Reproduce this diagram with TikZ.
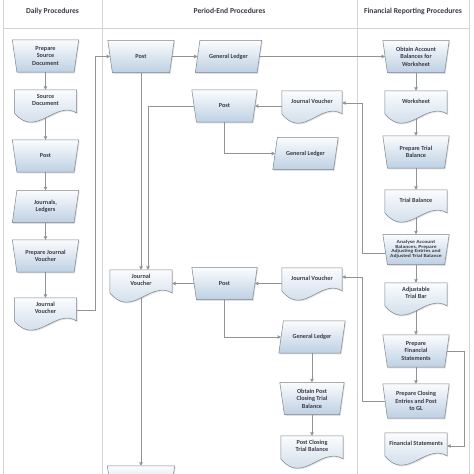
\documentclass[tikz,border=0pt]{standalone}
\usepackage{fontspec}
\setmainfont{Carlito}
\newfontfamily\aafont[FakeStretch=1.22]{Carlito}
\usetikzlibrary{arrows.meta,shadows,calc}
\pgfdeclarelayer{lanes}\pgfdeclarelayer{conn}\pgfdeclarelayer{shapes}
\pgfsetlayers{lanes,conn,shapes,main}
\definecolor{txt}{HTML}{3A3A48}
\definecolor{lanec}{HTML}{D4D4D4}
\definecolor{connc}{HTML}{939393}
\definecolor{edgec}{HTML}{7D858F}
\definecolor{fillTop}{HTML}{FBFCFD}
\definecolor{fillBot}{HTML}{BDD0E3}
\newcommand\docH{33pt}
\newcommand\sk{2.3pt}
\newcommand\docshape[1]{%
  \path[shapefill] let \p1=(#1.north west), \p2=(#1.north east), \n1={\x2-\x1} in
   (\x1,\y1) -- (\x2,\y1) -- (\x2,{\y1-0.7*\docH})
   .. controls ({\x1+0.65*\n1},{\y1-0.3*\docH}) and ({\x1+0.35*\n1},{\y1-1.5*\docH}) ..
   (\x1,{\y1-0.7*\docH}) -- cycle;}
\newcommand\opshape[1]{%
  \path[shapefill] ([xshift=-\sk]#1.north west) -- ([xshift=\sk]#1.north east)
   -- ([xshift=-\sk]#1.south east) -- ([xshift=\sk]#1.south west) -- cycle;}
\newcommand\datashape[1]{%
  \path[shapefill] ([xshift=\sk]#1.north west) -- ([xshift=\sk]#1.north east)
   -- ([xshift=-\sk]#1.south east) -- ([xshift=-\sk]#1.south west) -- cycle;}
\tikzset{
  nodefont/.style={text=txt, font=\fontsize{6.2}{7.5}\selectfont\bfseries, align=center},
  shadowed/.style={drop shadow={shadow xshift=0.9pt, shadow yshift=-1.1pt, opacity=0.25}},
  manop/.style={nodefont, rectangle, inner sep=0pt, minimum width=61.4pt, minimum height=32pt},
  datab/.style={manop},
  docnode/.style={nodefont, rectangle, inner sep=0pt, minimum width=62pt, minimum height=20pt},
  shapefill/.style={draw=edgec, line width=0.5pt, top color=fillTop, bottom color=fillBot, shadowed},
  flow/.style={draw=connc, line width=0.75pt, -{Triangle[length=3.4pt,width=3.4pt]}},
  laneline/.style={draw=lanec, line width=0.8pt},
  lanehead/.style={text=txt, font=\fontsize{7.6}{9}\selectfont\bfseries},
}
\begin{document}
\begin{tikzpicture}[x=1pt,y=-1pt]
\useasboundingbox (0,0) rectangle (474,474);
\begin{pgfonlayer}{lanes}
  \fill[white] (0,0) rectangle (474,474);
  \draw[laneline] (3,-5) -- (3,480);
  \draw[laneline] (469,-5) -- (469,480);
  \draw[laneline] (102,-5) -- (102,480);
  \draw[laneline] (357,-5) -- (357,480);
  \draw[laneline] (3,28) -- (469,28);
\end{pgfonlayer}
\node[lanehead] (h1) at (52.5,11) {Daily Procedures};
\node[lanehead] (h2) at (229.5,11) {Period-End Procedures};
\node[lanehead] (h3) at (413,11) {Financial Reporting Procedures};

% Daily
\node[manop] (psd) at (45.5,56) {Prepare\\Source\\Document};
\node[docnode] (sd) at (45.5,100) {Source\\Document};
\node[manop] (post1) at (45.5,156) {Post};
\node[datab] (jl) at (45.5,206.5) {Journals,\\Ledgers};
\node[manop] (pjv) at (45.5,256) {Prepare Journal\\Voucher};
\node[docnode] (jv1) at (45.5,308) {Journal\\Voucher};

% Period-end
\node[manop] (post2) at (141,56.5) {Post};
\node[datab] (gl1) at (228.5,56.5) {General Ledger};
\node[manop, minimum width=60.4pt] (post3) at (224.5,106) {Post};
\node[docnode, minimum width=60pt] (jv2) at (312,101) {Journal Voucher};
\node[datab, minimum width=60.4pt] (gl2) at (305.5,153.5) {General Ledger};
\node[docnode] (jv3) at (141,280) {Journal\\Voucher};
\node[manop, minimum width=60.4pt] (post4) at (224.5,283.5) {Post};
\node[docnode, minimum width=60pt] (jv4) at (312,278) {Journal Voucher};
\node[datab] (gl3) at (312,337) {General Ledger};
\node[manop, minimum width=59.4pt] (opctb) at (312,398.5) {Obtain Post\\Closing Trial\\Balance};
\node[docnode] (pctb) at (312,446) {Post Closing\\Trial Balance};
\node[manop, minimum width=62.4pt] (post5) at (141,482) {};

% Financial reporting
\node[manop] (oab) at (416,56.5) {Obtain Account\\Balances for\\Worksheet};
\node[docnode] (ws) at (416,101) {Worksheet};
\node[manop] (ptb) at (416,152) {Prepare Trial\\Balance};
\node[docnode] (tb) at (416,200) {Trial Balance};
\node[manop, minimum height=30pt, font=\aafont\fontsize{4.6}{4.5}\selectfont\bfseries] (aa) at (416,249.5) {Analyse Account\\Balances, Prepare\\Adjusting Entries and\\Adjusted Trial Balance};
\node[docnode] (atb) at (416,293) {Adjustable\\Trial Bar};
\node[manop] (pfs) at (416,351) {Prepare\\Financial\\Statements};
\node[manop, minimum height=34pt] (pce) at (416,401) {Prepare Closing\\Entries and Post\\to GL};
\node[docnode] (fs) at (416,443) {Financial Statements};

\begin{pgfonlayer}{shapes}
  \foreach \dn in {sd,jv1,jv2,jv3,jv4,pctb,ws,tb,atb,fs} {\docshape{\dn}}
  \foreach \dn in {psd,post1,pjv,post2,post3,post4,opctb,post5,oab,ptb,aa,pfs,pce} {\opshape{\dn}}
  \foreach \dn in {jl,gl1,gl2,gl3} {\datashape{\dn}}
\end{pgfonlayer}

\begin{pgfonlayer}{conn}
  \draw[flow] (psd) -- (sd);
  \draw[flow] (sd) -- (post1);
  \draw[flow] (post1) -- (jl);
  \draw[flow] (jl) -- (pjv);
  \draw[flow] (pjv) -- (jv1);
  \draw[flow] ([yshift=-2pt]jv1.east) -- ++(18.5,0) |- (post2.west);
  \draw[flow] (post2) -- (gl1);
  \draw[flow] (gl1) -- (oab);
  \draw[flow] (post2) -- (jv3);
  \draw[flow] (post3.west) -| ([xshift=7pt]jv3.north);
  \draw[flow] (jv2.west |- post3.east) -- (post3.east);
  \draw[flow] ([yshift=-4pt]aa.west) -- ++(-23,0) |- ([yshift=-2pt]jv2.east);
  \draw[flow] (post3.south) |- (gl2.west);
  \draw[flow] (jv4.west |- post4.east) -- (post4.east);
  \draw[flow] (post4.west) -- (post4.west -| jv3.east);
  \draw[flow] (pce.west) -- ++(-23,0) |- ([yshift=1pt]jv4.east);
  \draw[flow] (post4.south) |- (gl3.west);
  \draw[flow] (gl3) -- (opctb);
  \draw[flow] (opctb) -- (pctb);
  \draw[flow] (jv3) -- (post5);
  \draw[flow] (oab) -- (ws);
  \draw[flow] (ws) -- (ptb);
  \draw[flow] (ptb) -- (tb);
  \draw[flow] (tb) -- (aa);
  \draw[flow] (aa) -- (atb);
  \draw[flow] (atb) -- (pfs);
  \draw[flow] (pfs) -- (pce);
  \draw[flow] (pfs.east) -- ++(17,0) |- ([yshift=-3pt]fs.east);
\end{pgfonlayer}
\end{tikzpicture}
\end{document}
